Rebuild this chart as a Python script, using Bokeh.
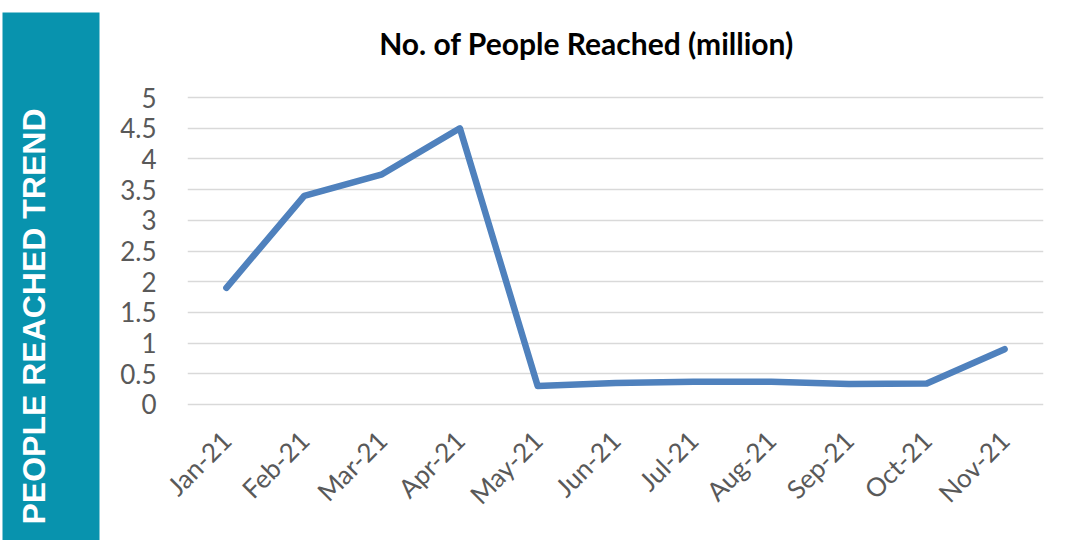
import math
from bokeh.plotting import figure
from bokeh.layouts import row, column
from bokeh.models import Range1d, FactorRange, FixedTicker
from bokeh.core.properties import value
from bokeh.embed import file_html
from bokeh.resources import INLINE

months = ["Jan-21", "Feb-21", "Mar-21", "Apr-21", "May-21", "Jun-21",
          "Jul-21", "Aug-21", "Sep-21", "Oct-21", "Nov-21"]
reached = [1.9, 3.4, 3.75, 4.5, 0.3, 0.35, 0.37, 0.37, 0.33, 0.34, 0.9]
y_ticks = [0, 0.5, 1, 1.5, 2, 2.5, 3, 3.5, 4, 4.5, 5]
y_tick_labels = ["0", "0.5", "1", "1.5", "2", "2.5", "3", "3.5", "4", "4.5", "5"]
title_text = "No. of People Reached (million)"
band_text = "PEOPLE REACHED TREND"

H = 540
TOP = 71
PAD = 20
W = 967


def blank(fig):
    fig.frame_align = False
    fig.axis.visible = False
    fig.grid.visible = False
    fig.outline_line_color = None
    fig.background_fill_color = "white"
    fig.border_fill_color = "white"


# ---- left band ----
band = figure(width=100, height=H, output_backend="svg", toolbar_location=None,
              x_range=Range1d(0, 100), y_range=Range1d(0, H),
              min_border=0, min_border_left=0, min_border_right=0,
              min_border_top=0, min_border_bottom=0)
blank(band)
band.quad(left=[2], right=[99], bottom=[0], top=[H - 12],
          fill_color="#0893AE", line_color=None)
band.text(x=[33], y=[H - 316], text=[band_text], angle=math.pi / 2,
          text_align="center", text_baseline="middle",
          text_color="white", text_font=value("Liberation Sans"),
          text_font_style="bold", text_font_size="32px")

# ---- title strip ----
tfig = figure(width=W, height=TOP, output_backend="svg", toolbar_location=None,
              x_range=Range1d(0, W), y_range=Range1d(0, TOP),
              min_border=0, min_border_left=0, min_border_right=0,
              min_border_top=0, min_border_bottom=0)
blank(tfig)
tfig.text(x=[486], y=[TOP - 42], text=[title_text],
          text_align="center", text_baseline="middle",
          text_font=value("Lato"), text_font_style="bold",
          text_font_size="30px", text_color="black")

# ---- main chart ----
p = figure(width=W, height=H - TOP, output_backend="svg", toolbar_location=None,
           x_range=FactorRange(*months), y_range=Range1d(-0.1, 5.1),
           min_border_left=87, min_border_right=24,
           min_border_top=PAD, min_border_bottom=H - TOP - PAD - 319)
p.frame_align = False
p.outline_line_color = None
p.xgrid.visible = False
p.ygrid.grid_line_color = "#D9D9D9"
p.ygrid.grid_line_width = 1.5
p.yaxis.ticker = FixedTicker(ticks=y_ticks)
p.yaxis.major_label_overrides = {t: l for t, l in zip(y_ticks, y_tick_labels)}
for ax in (p.xaxis[0], p.yaxis[0]):
    ax.axis_line_color = None
    ax.major_tick_line_color = None
    ax.minor_tick_line_color = None
    ax.major_tick_in = 0
    ax.major_tick_out = 0
    ax.major_label_text_color = "#595959"
    ax.major_label_text_font = "Lato"
p.yaxis.major_label_text_font_size = "26px"
p.yaxis.major_label_standoff = 31
p.xaxis.major_label_text_font_size = "26px"
p.xaxis.major_label_orientation = math.pi / 4
p.xaxis.major_label_standoff = 25

p.line(x=months, y=reached, line_color="#4F81BD", line_width=6.5,
       line_cap="round", line_join="round")

layout = row(band, column(tfig, p, spacing=0), spacing=0)
open("out.html", "w").write(file_html(layout, INLINE))
